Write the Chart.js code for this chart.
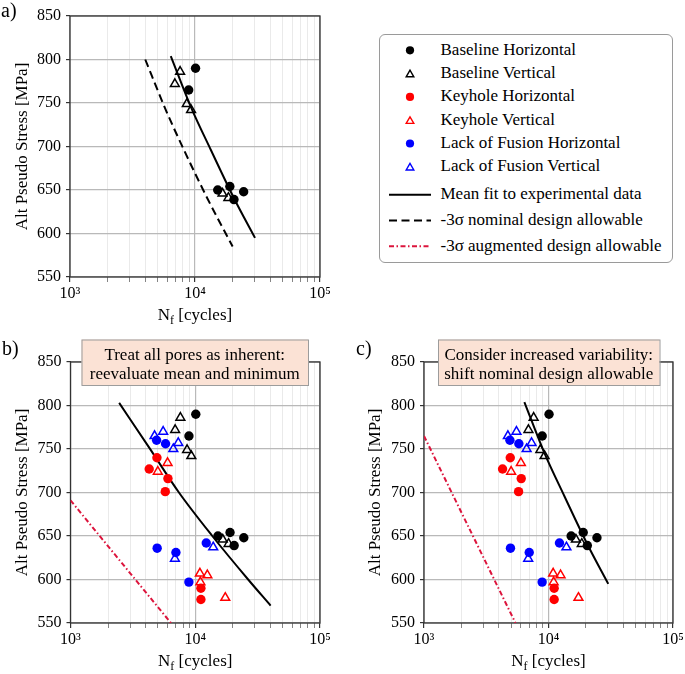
<!DOCTYPE html>
<html><head><meta charset="utf-8">
<script src="https://cdn.jsdelivr.net/npm/chart.js@4.4.1/dist/chart.umd.min.js"></script>
<style>
html,body{margin:0;padding:0;background:#fff;overflow:hidden;}
body{width:685px;height:674px;position:relative;font-family:"Liberation Serif","Times New Roman",serif;}
canvas{position:absolute;display:block;}
#cA{left:0;top:0;} #cB{left:0;top:330px;} #cC{left:340px;top:330px;}
#legend{position:absolute;left:379px;top:34px;width:294px;height:229px;border:1px solid #9a9a9a;border-radius:6px;box-sizing:border-box;background:#fff;}
#legend svg{position:absolute;left:0;top:0;}
.lt{position:absolute;font-size:17px;line-height:20px;white-space:nowrap;color:#000;}
</style></head>
<body>
<canvas id="cA" width="340" height="330"></canvas>
<canvas id="cB" width="340" height="344"></canvas>
<canvas id="cC" width="360" height="344"></canvas>
<div id="legend"></div>
<script>
// ---------------- DATA ----------------
const baselineH_N = [10100, 8900, 15200, 19000, 20500, 24500];
const baselineH_S = [790, 765, 650, 654, 639, 648];
const baselineV_N = [7600, 6900, 8600, 9300, 16600, 18500];
const baselineV_S = [786, 772, 749, 742, 646, 641];
const keyholeH_N = [4930, 4275, 6040, 5750, 11100, 11100];
const keyholeH_S = [740, 727, 716, 701, 590, 577];
const keyholeV_N = [6000, 5010, 10900, 12500, 11000, 17400];
const keyholeV_S = [734, 724, 607, 605, 597, 579];
const lofH_N = [4900, 5780, 4950, 7000, 12250, 8890];
const lofH_S = [760, 756, 636, 631, 642, 597];
const lofV_N = [4720, 5530, 6670, 7310, 13930, 6870];
const lofV_S = [765, 770, 750, 757, 637, 624];

// mean fit (panels a and c)
const meanFitAC_N = [6400, 9300, 13400, 20600, 30200];
const meanFitAC_S = [804, 745, 696, 640, 595];
// -3 sigma nominal design allowable (panel a)
const nominal_N = [4000, 5800, 8100, 12600, 20000];
const nominal_S = [800, 743, 697, 640, 585];
// mean fit panel b
const meanFitB_N = [2455, 4300, 7400, 13700, 26550, 40200];
const meanFitB_S = [803, 751, 700, 650, 600, 570];
// -3 sigma augmented design allowable
const augmentedB_N = [1000, 6385];
const augmentedB_S = [691, 550];
const augmentedC_N = [1000, 5430];
const augmentedC_S = [765, 550];

// ticks
const xTickValues = [1000,2000,3000,4000,5000,6000,7000,8000,9000,10000,20000,30000,40000,50000,60000,70000,80000,90000,100000];
const xMajorTicks = [1000, 10000, 100000];
const xMajorLabels = ['10³', '10⁴', '10⁵'];
const yTickValues = [550, 600, 650, 700, 750, 800, 850];

const yTitle = 'Alt Pseudo Stress [MPa]';
const annotationB = ['Treat all pores as inherent:', 'reevaluate mean and minimum'];
const annotationC = ['Consider increased variability:', 'shift nominal design allowable'];
const legendLabels = ['Baseline Horizontal','Baseline Vertical','Keyhole Horizontal','Keyhole Vertical','Lack of Fusion Horizontal','Lack of Fusion Vertical','Mean fit to experimental data','-3σ nominal design allowable','-3σ augmented design allowable'];

// ---------------- STYLE ----------------
const FONT = '"Liberation Serif", "Times New Roman", serif';
Chart.defaults.font.family = FONT;
Chart.defaults.color = '#000';
const RED = '#ff0000', BLUE = '#0000ff', BLACK = '#000000', CRIMSON = '#dc143c';
const DASH_NOM = [8, 4.5];
const DASH_AUG = [5, 2.5, 1.5, 2.5];

function pts(ns, ss){ return ns.map((n,i)=>({x:n, y:ss[i]})); }
function isDecade(v){ const l = Math.log10(v); return Math.abs(l - Math.round(l)) < 1e-9; }

function markerDS(label, ns, ss, color, shape){
  const circ = shape === 'circle';
  return {label, data: pts(ns, ss), showLine:false, order:1,
    pointStyle: shape, pointRadius: circ ? 4.7 : 5.1, pointHoverRadius: circ ? 4.7 : 5.1,
    pointBackgroundColor: circ ? color : 'rgba(0,0,0,0)', pointBorderColor: color,
    pointBorderWidth: circ ? 0 : 1.5};
}
function lineDS(label, ns, ss, color, dash){
  return {label, data: pts(ns, ss), showLine:true, order:2, pointRadius:0, pointHoverRadius:0,
    borderColor: color, borderWidth: 2, borderDash: dash, fill:false,
    cubicInterpolationMode: 'monotone'};
}

const decoPlugin = {
  id: 'deco',
  beforeDatasetsDraw(chart){
    const {ctx, chartArea:a} = chart;
    ctx.save();
    ctx.strokeStyle = '#333'; ctx.lineWidth = 1.3;
    ctx.strokeRect(a.left, a.top, a.right - a.left, a.bottom - a.top);
    ctx.restore();
  },
  afterDraw(chart, args, o){
    const {ctx, chartArea:a} = chart;
    ctx.save();
    ctx.fillStyle = '#000';
    // x axis title N_f [cycles]
    const cx = (a.left + a.right) / 2, ty = a.bottom + o.xTitleOffset;
    const big = '17px ' + FONT, small = '12px ' + FONT;
    ctx.font = big; const wN = ctx.measureText('N').width; const wR = ctx.measureText(' [cycles]').width;
    ctx.font = small; const wf = ctx.measureText('f').width;
    const x0 = cx - (wN + wf + wR) / 2;
    ctx.textAlign = 'left'; ctx.textBaseline = 'alphabetic';
    ctx.font = big; ctx.fillText('N', x0, ty);
    ctx.font = small; ctx.fillText('f', x0 + wN, ty + 4);
    ctx.font = big; ctx.fillText(' [cycles]', x0 + wN + wf, ty);
    // panel letter
    ctx.font = '20px ' + FONT; ctx.textBaseline = 'middle';
    ctx.fillText(o.letter, o.letterX, o.letterY);
    // annotation box
    if (o.box){
      const b = o.box;
      ctx.fillStyle = '#fbe2d5'; ctx.strokeStyle = '#9c9c9c'; ctx.lineWidth = 1;
      ctx.fillRect(b.x, b.y, b.w, b.h); ctx.strokeRect(b.x + 0.5, b.y + 0.5, b.w, b.h);
      ctx.fillStyle = '#000'; ctx.font = '17px ' + FONT; ctx.textAlign = 'center'; ctx.textBaseline = 'middle';
      b.lines.forEach((t, i) => ctx.fillText(t, b.x + b.w / 2, b.y + 16.5 + i * 18.6));
    }
    ctx.restore();
  }
};

function xScale(h){
  return {
    type: 'logarithmic', min: 1000, max: 100000,
    afterBuildTicks: s => { s.ticks = xTickValues.map(v => ({value: v, major: isDecade(v)})); },
    afterFit: s => { s.height = h; },
    border: {display: false},
    grid: {
      color: c => (c.tick && isDecade(c.tick.value)) ? '#b9b9b9' : '#e4e4e4',
      lineWidth: c => (c.tick && isDecade(c.tick.value)) ? 1.2 : 0.8,
      tickColor: c => (c.tick && isDecade(c.tick.value)) ? '#333' : '#666',
      tickWidth: c => (c.tick && isDecade(c.tick.value)) ? 1.2 : 0.8,
      tickLength: 5
    },
    ticks: {
      autoSkip: false, maxRotation: 0, minRotation: 0, padding: 2, color: '#000',
      font: {family: FONT, size: 16},
      callback: v => { const i = xMajorTicks.indexOf(v); return i >= 0 ? xMajorLabels[i] : ''; }
    }
  };
}
function yScale(w, titlePad){
  return {
    min: 550, max: 850,
    afterBuildTicks: s => { s.ticks = yTickValues.map(v => ({value: v})); },
    afterFit: s => { s.width = w; },
    border: {display: false},
    grid: {color: '#b9b9b9', lineWidth: 1.2, tickColor: '#333', tickWidth: 1.2, tickLength: 4},
    ticks: {padding: 5, color: '#000', font: {family: FONT, size: 16}},
    title: {display: true, text: yTitle, color: '#000', font: {family: FONT, size: 17}, padding: {top: titlePad, bottom: 0}}
  };
}

function makePanel(id, datasets, p){
  return new Chart(document.getElementById(id), {
    type: 'scatter',
    data: {datasets},
    options: {
      responsive: false, animation: false, events: [],
      layout: {padding: {left: 0, right: p.padRight, top: p.padTop, bottom: 0}},
      plugins: {legend: {display: false}, tooltip: {enabled: false}, deco: p.deco},
      scales: {x: xScale(p.xH), y: yScale(p.yW, p.yTitlePad)}
    },
    plugins: [decoPlugin]
  });
}

function allMarkers(){
  return [
    markerDS('Baseline Horizontal', baselineH_N, baselineH_S, BLACK, 'circle'),
    markerDS('Baseline Vertical', baselineV_N, baselineV_S, BLACK, 'triangle'),
    markerDS('Keyhole Horizontal', keyholeH_N, keyholeH_S, RED, 'circle'),
    markerDS('Keyhole Vertical', keyholeV_N, keyholeV_S, RED, 'triangle'),
    markerDS('Lack of Fusion Horizontal', lofH_N, lofH_S, BLUE, 'circle'),
    markerDS('Lack of Fusion Vertical', lofV_N, lofV_S, BLUE, 'triangle')
  ];
}

// Panel a
makePanel('cA', [
  markerDS('Baseline Horizontal', baselineH_N, baselineH_S, BLACK, 'circle'),
  markerDS('Baseline Vertical', baselineV_N, baselineV_S, BLACK, 'triangle'),
  lineDS('Mean fit to experimental data', meanFitAC_N, meanFitAC_S, BLACK, []),
  lineDS('-3σ nominal design allowable', nominal_N, nominal_S, BLACK, DASH_NOM)
], {padRight: 20, padTop: 16, xH: 53, yW: 70, yTitlePad: 12,
    deco: {letter: 'a)', letterX: 1, letterY: 12, xTitleOffset: 43}});

// Panel b
makePanel('cB', allMarkers().concat([
  lineDS('Mean fit to experimental data', meanFitB_N, meanFitB_S, BLACK, []),
  lineDS('-3σ augmented design allowable', augmentedB_N, augmentedB_S, CRIMSON, DASH_AUG)
]), {padRight: 20, padTop: 32, xH: 51, yW: 70.5, yTitlePad: 12,
    deco: {letter: 'b)', letterX: 2, letterY: 20, xTitleOffset: 43,
      box: {x: 81.5, y: 9.5, w: 226.5, h: 45.5, lines: annotationB}}});

// Panel c
makePanel('cC', allMarkers().concat([
  lineDS('Mean fit to experimental data', meanFitAC_N, meanFitAC_S, BLACK, []),
  lineDS('-3σ augmented design allowable', augmentedC_N, augmentedC_S, CRIMSON, DASH_AUG)
]), {padRight: 27, padTop: 32, xH: 51, yW: 84, yTitlePad: 25,
    deco: {letter: 'c)', letterX: 16, letterY: 20, xTitleOffset: 43,
      box: {x: 98, y: 9.5, w: 221.5, h: 45.5, lines: annotationC}}});

// ---------------- LEGEND ----------------
(function buildLegend(){
  const lg = document.getElementById('legend');
  const NS = 'http://www.w3.org/2000/svg';
  const svg = document.createElementNS(NS, 'svg');
  svg.setAttribute('width', '292'); svg.setAttribute('height', '227');
  lg.appendChild(svg);
  const kinds = [
    {t:'circle', c:BLACK}, {t:'tri', c:BLACK}, {t:'circle', c:RED}, {t:'tri', c:RED},
    {t:'circle', c:BLUE}, {t:'tri', c:BLUE},
    {t:'line', c:BLACK, d:''}, {t:'line', c:BLACK, d:DASH_NOM.join(',')}, {t:'line', c:CRIMSON, d:DASH_AUG.join(',')}
  ];
  const mx = 30, tx = 60.5;
  legendLabels.forEach((lab, i) => {
    const y = i < 6 ? 15.3 + i * 23.3 : 159.7 + (i - 6) * 25.8;
    const k = kinds[i];
    let el;
    if (k.t === 'circle'){
      el = document.createElementNS(NS, 'circle');
      el.setAttribute('cx', mx); el.setAttribute('cy', y); el.setAttribute('r', 4.1); el.setAttribute('fill', k.c);
    } else if (k.t === 'tri'){
      el = document.createElementNS(NS, 'polygon');
      const r = 4.4, yc = y + 1.0;
      el.setAttribute('points', `${mx},${yc - r} ${mx - r*0.866},${yc + r/2} ${mx + r*0.866},${yc + r/2}`);
      el.setAttribute('fill', 'none'); el.setAttribute('stroke', k.c); el.setAttribute('stroke-width', 1.4);
    } else {
      el = document.createElementNS(NS, 'line');
      el.setAttribute('x1', 9); el.setAttribute('x2', 51); el.setAttribute('y1', y); el.setAttribute('y2', y);
      el.setAttribute('stroke', k.c); el.setAttribute('stroke-width', 2);
      if (k.d) el.setAttribute('stroke-dasharray', k.d);
    }
    svg.appendChild(el);
    const sp = document.createElement('div');
    sp.className = 'lt'; sp.textContent = lab;
    sp.style.left = tx + 'px'; sp.style.top = (y - 10.5) + 'px';
    lg.appendChild(sp);
  });
})();
</script>
</body></html>
